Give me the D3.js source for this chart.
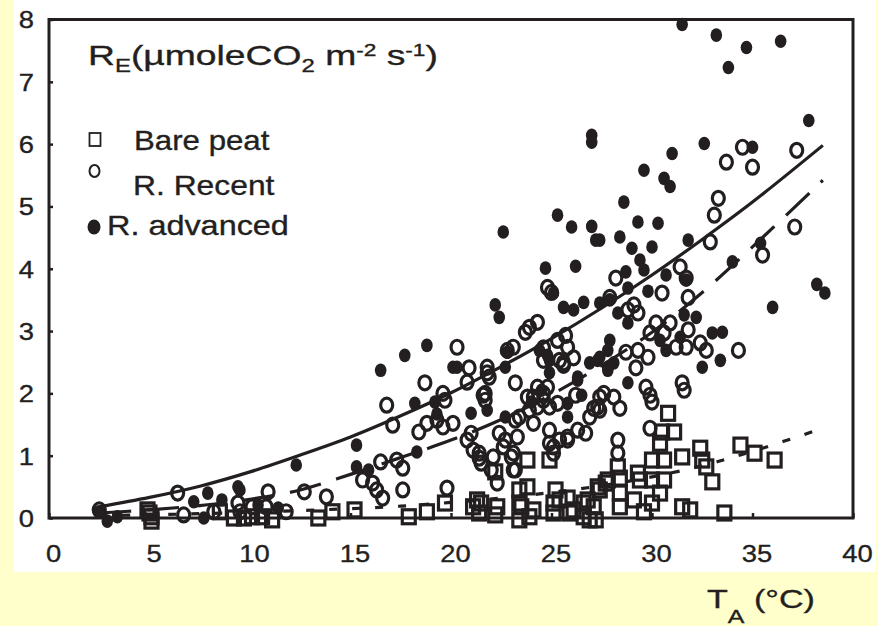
<!DOCTYPE html>
<html><head><meta charset="utf-8">
<script src="https://cdn.jsdelivr.net/npm/d3@7"></script>
<style>body{margin:0;background:#ffffcc;} svg{display:block}</style>
</head><body><svg id="c" width="878" height="626"></svg>
<script>
// ---------- data (air temperature °C, ecosystem respiration µmol CO2 m-2 s-1) ----------
const xTicks = [0, 5, 10, 15, 20, 25, 30, 35, 40];
const yTicks = [0, 1, 2, 3, 4, 5, 6, 7, 8];
const seriesNames = ["Bare peat", "R. Recent", "R. advanced"];

const bareData = [
[4.9,0.13],[5.1,0.02],[5.0,0.08],[5.1,-0.05],[9.2,0.0],[9.7,0.0],[10.1,0.02],[10.6,0.02],[11.1,-0.03],[8.5,0.1],
[13.4,0.0],[14.1,0.1],[15.2,0.13],[17.9,0.02],[18.8,0.1],[19.7,0.24],[21.1,0.18],[21.5,0.24],[21.4,0.08],[22.3,0.18],
[22.2,0.05],[23.4,0.45],[23.8,0.5],[23.5,0.18],[24.1,0.13],[23.4,-0.03],[23.9,0.02],[25.2,0.45],[25.8,0.32],[25.1,0.24],
[26.1,0.13],[27.1,0.18],[26.6,0.02],[26.9,-0.03],[27.3,0.5],[23.8,0.93],[24.9,0.93],[22.2,0.74],[21.3,0.29],[23.4,0.24],
[25.4,0.29],[25.9,0.08],[26.6,0.24],[27.8,0.61],[27.2,-0.03],[25.1,0.08],[30.8,1.68],[31.1,1.38],[30.5,1.38],[30.4,1.2],
[30.0,0.93],[30.6,0.93],[31.5,0.98],[32.4,1.12],[32.5,0.93],[32.7,0.82],[33.0,0.58],[34.4,1.17],[35.1,1.04],[36.1,0.93],
[31.5,0.18],[31.9,0.13],[33.6,0.08],[28.4,0.64],[29.4,0.61],[27.7,0.56],[28.4,0.4],[29.1,0.29],[28.4,0.18],[29.6,0.1],
[30.0,0.61],[30.6,0.61],[30.4,0.4],[30.0,0.24],[27.4,0.45],[28.3,0.82],[29.3,0.72],[26.8,0.29]
];

const recentData = [
[2.5,0.13],[6.4,0.4],[10.9,0.42],[12.7,0.42],[6.7,0.05],[8.2,0.1],[9.4,0.24],[10.1,0.18],[10.8,0.18],[11.8,0.1],
[9.5,0.1],[24.8,3.7],[25.0,3.62],[20.3,2.74],[18.7,2.17],[16.8,1.81],[17.1,1.49],[23.9,3.06],[24.3,3.14],[23.7,2.98],
[23.1,2.74],[22.8,2.69],[20.9,2.41],[21.8,2.33],[20.8,2.18],[21.7,2.0],[21.7,1.89],[23.2,2.17],[19.6,2.0],[19.7,1.89],
[20.1,1.52],[19.6,1.46],[19.3,1.57],[18.4,1.38],[18.8,1.52],[16.5,0.9],[17.3,0.93],[17.6,0.8],[15.6,0.61],[16.1,0.56],
[16.3,0.45],[16.6,0.32],[17.6,0.45],[19.8,0.48],[13.8,0.34],[20.8,1.25],[21.1,1.09],[21.4,0.96],[21.5,0.88],[22.1,0.98],
[22.0,0.77],[22.3,0.56],[22.6,1.14],[23.1,0.77],[23.1,1.04],[22.4,1.36],[24.1,1.52],[23.9,1.73],[23.4,1.62],[24.3,1.78],
[24.9,1.41],[25.1,1.14],[25.4,1.25],[24.1,1.94],[24.6,2.0],[25.3,1.84],[25.4,2.53],[25.6,2.45],[27.1,1.76],[26.3,1.41],
[25.8,1.3],[26.9,1.62],[24.8,2.1],[33.7,5.71],[34.5,5.95],[35.0,5.63],[37.2,5.9],[37.1,4.67],[33.3,5.13],[33.1,4.86],
[32.9,4.43],[35.5,4.22],[31.4,4.03],[31.7,3.85],[28.2,3.85],[30.5,3.61],[31.8,3.54],[27.9,3.54],[29.1,3.42],[28.8,3.34],
[29.3,3.29],[30.2,3.13],[30.9,3.13],[31.8,3.02],[31.7,2.74],[29.9,2.97],[30.6,2.97],[29.3,2.69],[28.7,2.66],[31.2,2.74],
[32.4,2.81],[32.7,2.69],[34.3,2.69],[29.8,2.58],[29.2,2.41],[29.7,2.1],[29.9,1.97],[31.5,2.17],[31.6,2.05],[27.6,2.0],
[28.1,1.94],[28.4,1.76],[30.0,1.86],[29.9,1.44],[28.3,1.25],[28.3,1.04],[27.4,1.94],[27.4,1.73],[21.8,2.42],[21.9,2.26],
[21.6,1.97],[24.6,2.53],[24.6,2.73],[25.3,2.85],[25.7,2.93],[25.8,2.74],[25.6,2.49],[26.1,2.57],[24.3,2.1],[24.6,1.89],
[24.9,1.78],[26.2,1.97],[23.8,1.94],[21.0,1.36],[21.4,1.04],[22.7,1.25],[23.3,1.3],[23.2,1.57],[23.2,0.77],[23.0,0.98],
[24.9,1.2],[25.1,1.04],[25.8,1.25],[26.7,1.36],[27.3,1.78]
];

const advancedData = [
[31.5,7.92],[33.2,7.75],[34.7,7.55],[33.8,7.23],[36.4,7.65],[37.8,6.38],[29.6,5.58],[31.0,5.85],[32.6,6.01],[30.6,5.45],
[30.9,5.32],[28.6,5.07],[29.3,4.75],[30.3,4.73],[27.4,4.46],[28.4,4.51],[30.0,4.35],[29.0,4.33],[29.4,4.14],[31.8,4.46],
[29.6,3.98],[30.7,3.9],[31.7,3.82],[29.8,3.64],[35.0,5.95],[35.4,4.41],[34.0,4.11],[38.2,3.75],[38.6,3.61],[36.0,3.38],
[27.0,6.14],[27.0,6.03],[22.6,4.59],[25.3,4.86],[26.0,4.67],[27.0,4.68],[27.2,4.46],[24.7,4.01],[26.2,4.04],[25.1,3.61],
[22.2,3.42],[22.4,3.22],[16.5,2.37],[17.7,2.61],[18.8,2.77],[20.1,2.42],[18.2,1.84],[21.0,1.68],[15.3,1.17],[15.3,0.82],
[15.9,0.77],[18.3,1.06],[26.1,3.34],[26.6,3.46],[25.6,3.38],[22.8,2.66],[22.7,2.42],[19.3,1.67],[21.8,1.73],[26.9,2.49],
[26.3,2.26],[24.9,2.53],[24.4,2.69],[12.3,0.85],[7.9,0.4],[9.4,0.5],[9.5,0.45],[8.6,0.29],[7.2,0.26],[2.9,-0.05],
[3.4,0.02],[10.4,0.21],[11.4,0.16],[7.7,0.0],[2.5,0.1],[24.8,2.61],[24.5,2.05],[24.9,2.33],[26.3,2.21],[26.5,1.97],
[27.8,2.42],[27.3,2.53],[25.8,1.62],[25.8,1.84],[24.0,1.86],[22.7,1.62],[20.3,2.42],[28.7,3.95],[28.8,3.69],[27.9,3.5],
[27.4,3.45],[28.3,3.29],[28.8,3.13],[32.2,3.22],[31.6,3.26],[33.0,2.97],[33.5,2.98],[33.4,2.53],[32.5,2.42],[27.9,2.85],
[27.8,2.69],[27.4,2.58],[28.1,2.49],[28.8,2.17],[27.8,2.37],[30.4,2.85],[30.7,2.69],[31.4,2.9],[19.2,1.86]
];

// fitted curves
const fitAdvanced = [[2.5,0.18],[5,0.33],[7.5,0.51],[10,0.74],[12.5,1.01],[15,1.30],[17.5,1.64],[20,2.01],[22.5,2.43],[25,2.88],[27.5,3.37],[30,3.90],[32.5,4.47],[35,5.07],[38.5,5.98]];
const fitRecent   = [[2.5,0.08],[5,0.13],[7.5,0.20],[10,0.30],[12.5,0.45],[15,0.70],[17.5,0.97],[20,1.25],[22.5,1.58],[25,1.98],[27.5,2.45],[30,2.98],[32.5,3.62],[35,4.35],[38.5,5.42]];
const fitBare     = [[2.5,0.04],[5,0.05],[7.5,0.07],[10,0.09],[12.5,0.12],[15,0.15],[17.5,0.19],[20,0.25],[22.5,0.32],[25,0.41],[27.5,0.52],[30,0.66],[32.5,0.84],[35,1.07],[38.5,1.44]];

// ---------- drawing ----------
const INK = "#231f20";
const FONT = "Liberation Sans, Arial, sans-serif";
const svg = d3.select("#c");
svg.append("rect").attr("x", 14).attr("y", 0).attr("width", 862).attr("height", 572).attr("fill", "#ffffff");

const x = d3.scaleLinear().domain([0, 40]).range([49, 853]);
const y = d3.scaleLinear().domain([0, 8]).range([518, 19.5]);
const SX = 1.14;

// axes
const gy = svg.append("g").attr("transform", `translate(${x(0)},0)`)
  .call(d3.axisLeft(y).tickValues(yTicks).tickSize(-4).tickSizeOuter(0).tickPadding(15));
const gx = svg.append("g").attr("transform", `translate(0,${y(0)})`)
  .call(d3.axisBottom(x).tickValues(xTicks).tickSize(-5).tickSizeOuter(0));
[gx, gy].forEach(g => {
  g.select(".domain").remove();
  g.selectAll("line").attr("stroke", INK).attr("stroke-width", 2.5);
  g.selectAll("text").attr("font-family", FONT).attr("font-size", 24).attr("fill", INK)
    .attr("stroke", INK).attr("stroke-width", 0.35);
});
gy.selectAll("text").attr("transform", `scale(${SX},1)`).attr("x", -15 / SX).attr("dy", "0.35em");
gx.selectAll("text").attr("transform", `scale(${SX},1)`).attr("x", 4 / SX).attr("y", 44).attr("dy", 0);

// frame
svg.append("rect").attr("x", x(0)).attr("y", y(8)).attr("width", x(40) - x(0)).attr("height", y(0) - y(8))
  .attr("fill", "none").attr("stroke", INK).attr("stroke-width", 3);

// fitted curves
const line = d3.line().x(d => x(d[0])).y(d => y(d[1])).curve(d3.curveCatmullRom);
svg.append("path").attr("d", line(fitAdvanced)).attr("fill", "none").attr("stroke", INK).attr("stroke-width", 3.2);
svg.append("path").attr("d", line(fitRecent)).attr("fill", "none").attr("stroke", INK).attr("stroke-width", 3.2).attr("stroke-dasharray", "32,16");
svg.append("path").attr("d", line(fitBare)).attr("fill", "none").attr("stroke", INK).attr("stroke-width", 3.2).attr("stroke-dasharray", "8,15");

// markers
svg.append("g").selectAll("rect").data(bareData).join("rect")
  .attr("x", d => x(d[0]) - 6.5).attr("y", d => y(d[1]) - 7).attr("width", 13).attr("height", 14)
  .attr("fill", "none").attr("stroke", INK).attr("stroke-width", 3.2);
svg.append("g").selectAll("ellipse").data(recentData).join("ellipse")
  .attr("cx", d => x(d[0])).attr("cy", d => y(d[1])).attr("rx", 6).attr("ry", 7)
  .attr("fill", "none").attr("stroke", INK).attr("stroke-width", 3.2);
svg.append("g").selectAll("ellipse").data(advancedData).join("ellipse")
  .attr("cx", d => x(d[0])).attr("cy", d => y(d[1])).attr("rx", 5.8).attr("ry", 6.8)
  .attr("fill", INK);

// text helper: place text with left edge at (x0, baseline y0), stretched to a target width
function fitText(x0, y0, width, build) {
  const g = svg.append("g");
  const t = g.append("text").attr("font-family", FONT).attr("fill", INK)
    .attr("stroke", INK).attr("stroke-width", 0.35);
  build(t);
  const w = t.node().getBBox().width;
  g.attr("transform", `translate(${x0},${y0}) scale(${width / w},1)`);
}

// panel title
fitText(88, 65, 350, t => {
  t.attr("font-size", 28);
  t.append("tspan").text("R");
  t.append("tspan").attr("font-size", 18).attr("dy", 7).text("E");
  t.append("tspan").attr("dy", -7).text("(µmoleCO");
  t.append("tspan").attr("font-size", 18).attr("dy", 7).text("2");
  t.append("tspan").attr("dy", -7).text(" m");
  t.append("tspan").attr("font-size", 17).attr("dy", -9).text("-2");
  t.append("tspan").attr("dy", 9).text(" s");
  t.append("tspan").attr("font-size", 17).attr("dy", -9).text("-1");
  t.append("tspan").attr("dy", 9).text(")");
});

// legend
svg.append("rect").attr("x", 89.5).attr("y", 133).attr("width", 11).attr("height", 13)
  .attr("fill", "none").attr("stroke", INK).attr("stroke-width", 1.8);
svg.append("ellipse").attr("cx", 94.5).attr("cy", 171).attr("rx", 5).attr("ry", 6)
  .attr("fill", "none").attr("stroke", INK).attr("stroke-width", 2);
svg.append("ellipse").attr("cx", 94).attr("cy", 227).attr("rx", 6.5).attr("ry", 7.5).attr("fill", INK);
fitText(134, 150, 136, t => t.attr("font-size", 27).text(seriesNames[0]));
fitText(133, 195, 142, t => t.attr("font-size", 27).text(seriesNames[1]));
fitText(107, 235, 182, t => t.attr("font-size", 27).text(seriesNames[2]));

// x-axis title
fitText(707, 608, 108, t => {
  t.attr("font-size", 26);
  t.append("tspan").text("T");
  t.append("tspan").attr("font-size", 19).attr("dy", 15).text("A");
  t.append("tspan").attr("dy", -15).text(" (°C)");
});
</script>
</body></html>
